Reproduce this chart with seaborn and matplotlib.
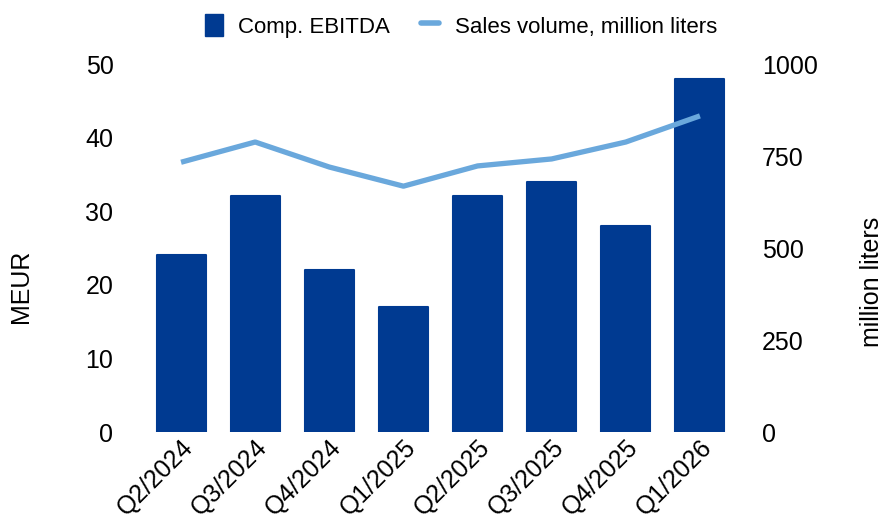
import matplotlib
matplotlib.use("Agg")
import matplotlib.pyplot as plt
import seaborn as sns
import pandas as pd
from matplotlib.lines import Line2D
from matplotlib.patches import Patch

quarters = ["Q2/2024", "Q3/2024", "Q4/2024", "Q1/2025", "Q2/2025", "Q3/2025", "Q4/2025", "Q1/2026"]
ebitda = [24, 32, 22, 17, 32, 34, 28, 48]
volume = [733, 788, 720, 668, 723, 742, 788, 859]

bar_color = "#003A91"
line_color = "#6AA8DC"

sns.set_theme(style="white")
plt.rcParams["font.family"] = ["Liberation Sans", "DejaVu Sans"]
plt.rcParams["text.color"] = "black"
plt.rcParams["axes.labelcolor"] = "black"
plt.rcParams["xtick.color"] = "black"
plt.rcParams["ytick.color"] = "black"

df = pd.DataFrame({"quarter": quarters, "ebitda": ebitda, "volume": volume})

fig = plt.figure(figsize=(8.83, 5.28), dpi=100)
ax = fig.add_axes([144 / 883, 1 - 432 / 528, (737 - 144) / 883, (432 - 64) / 528])
sns.barplot(data=df, x="quarter", y="ebitda", color=bar_color, saturation=1,
            width=0.66, ax=ax, edgecolor=bar_color, linewidth=1.5)
for p in ax.patches:
    p.set_joinstyle("round")
ax.set_ylim(0, 50)
ax.set_xlim(-0.5, len(quarters) - 0.5)
ax.set_yticks([0, 10, 20, 30, 40, 50])
ax.set_xlabel("")
ax.set_ylabel("MEUR", fontsize=18)
ax.yaxis.set_label_coords(-0.187, 0.397)
ax.tick_params(axis="y", labelsize=18, pad=22, length=0)
ax.tick_params(axis="x", labelsize=18, length=0, pad=2)
for lbl in ax.get_xticklabels():
    lbl.set_rotation(45)
    lbl.set_ha("right")
    lbl.set_rotation_mode("anchor")

ax2 = ax.twinx()
sns.lineplot(x=list(range(len(quarters))), y=volume, color=line_color, linewidth=3.8,
             ax=ax2, solid_capstyle="butt")
ax2.set_ylim(0, 1000)
ax2.set_yticks([0, 250, 500, 750, 1000])
ax2.set_ylabel("million liters", fontsize=18)
ax2.yaxis.set_label_coords(1.207, 0.408)
ax2.tick_params(axis="y", labelsize=18, pad=18, length=0)

for a in (ax, ax2):
    for s in a.spines.values():
        s.set_visible(False)
    a.grid(False)

handles = [Patch(facecolor=bar_color, edgecolor=bar_color),
           Line2D([0], [0], color=line_color, linewidth=4)]
fig.legend(handles, ["Comp. EBITDA", "Sales volume, million liters"], loc="upper center",
           bbox_to_anchor=(0.522, 1.012), ncol=2, frameon=False, fontsize=16,
           handlelength=0.8, handleheight=1.2, columnspacing=1.4, handletextpad=0.7)

fig.savefig("out.png", dpi=100)
